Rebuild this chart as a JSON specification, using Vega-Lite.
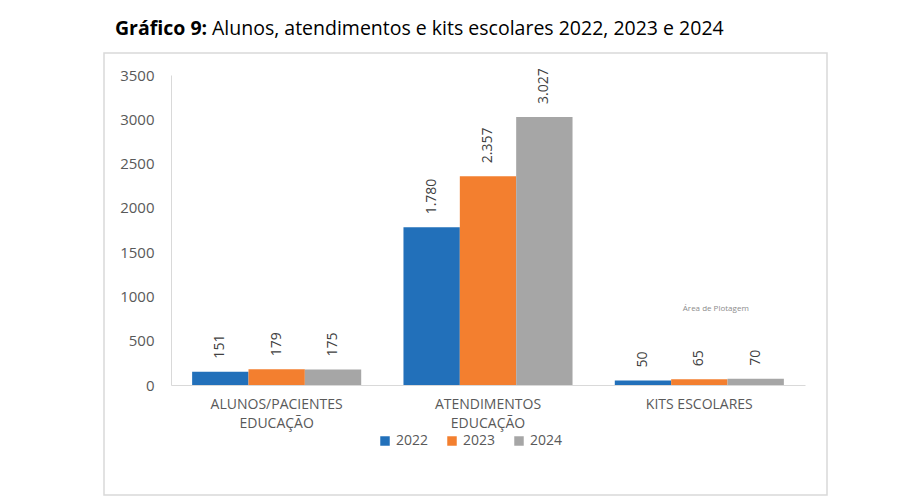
{
  "$schema": "https://vega.github.io/schema/vega-lite/v6.json",
  "width": 723,
  "height": 442,
  "autosize": "none",
  "padding": {"left": 104, "top": 53, "right": 85, "bottom": 1},
  "background": "white",
  "config": {
    "view": {"stroke": "#d9d9d9", "strokeWidth": 1.5},
    "font": "Open Sans",
    "locale": {"number": {"decimal": ",", "thousands": ".", "grouping": [3], "currency": ["R$", ""]}}
  },
  "title": {
    "text": "Gráfico 9:",
    "subtitle": "Alunos, atendimentos e kits escolares 2022, 2023 e 2024",
    "anchor": "start",
    "frame": "group",
    "dx": 108,
    "encoding": {"dx": {"value": 11}},
    "font": "Open Sans",
    "subtitleFont": "Open Sans",
    "fontSize": 19.5,
    "subtitleFontSize": 19.5,
    "fontWeight": "bold",
    "subtitleFontWeight": "normal",
    "color": "#000000",
    "subtitleColor": "#000000",
    "subtitlePadding": -19.5,
    "offset": 14
  },
  "data": {
    "values": [
      {"cat": "ALUNOS/PACIENTES EDUCAÇÃO", "ano": "2022", "v": 151},
      {"cat": "ALUNOS/PACIENTES EDUCAÇÃO", "ano": "2023", "v": 179},
      {"cat": "ALUNOS/PACIENTES EDUCAÇÃO", "ano": "2024", "v": 175},
      {"cat": "ATENDIMENTOS EDUCAÇÃO", "ano": "2022", "v": 1780},
      {"cat": "ATENDIMENTOS EDUCAÇÃO", "ano": "2023", "v": 2357},
      {"cat": "ATENDIMENTOS EDUCAÇÃO", "ano": "2024", "v": 3027},
      {"cat": "KITS ESCOLARES", "ano": "2022", "v": 50},
      {"cat": "KITS ESCOLARES", "ano": "2023", "v": 65},
      {"cat": "KITS ESCOLARES", "ano": "2024", "v": 70}
    ]
  },
  "encoding": {
    "x": {
      "field": "cat",
      "type": "nominal",
      "sort": ["ALUNOS/PACIENTES EDUCAÇÃO", "ATENDIMENTOS EDUCAÇÃO", "KITS ESCOLARES"],
      "scale": {"range": [67, 701], "paddingInner": 0.2, "paddingOuter": 0.1},
      "axis": {
        "title": null,
        "labelAngle": 0,
        "ticks": false,
        "domainColor": "#d9d9d9",
        "domainWidth": 1,
        "labelFont": "Open Sans",
        "labelFontSize": 14,
        "labelColor": "#595959",
        "labelPadding": 12,
        "labelLineHeight": 19,
        "labelBaseline": "top",
        "offset": -110,
        "labelExpr": "datum.value == 'KITS ESCOLARES' ? datum.value : split(datum.value, ' ')"
      }
    },
    "xOffset": {
      "field": "ano",
      "type": "nominal",
      "scale": {"paddingInner": 0, "paddingOuter": 0}
    },
    "y": {
      "field": "v",
      "type": "quantitative",
      "scale": {"domain": [0, 3500], "range": [332, 22], "nice": false},
      "axis": {
        "title": null,
        "values": [0, 500, 1000, 1500, 2000, 2500, 3000, 3500],
        "format": "d",
        "grid": false,
        "ticks": false,
        "domainColor": "#d9d9d9",
        "domainWidth": 1,
        "labelFont": "Open Sans",
        "labelFontSize": 15,
        "labelColor": "#595959",
        "labelPadding": 17,
        "offset": -67
      }
    }
  },
  "layer": [
    {
      "mark": {"type": "bar"},
      "encoding": {
        "color": {
          "field": "ano",
          "type": "nominal",
          "scale": {"domain": ["2022", "2023", "2024"], "range": ["#2270BA", "#F37F2F", "#A6A6A6"]},
          "legend": {
            "orient": "none",
            "legendX": 274,
            "legendY": 381,
            "direction": "horizontal",
            "title": null,
            "symbolType": "square",
            "symbolSize": 90,
            "symbolStrokeWidth": 0,
            "labelFont": "Open Sans",
            "labelFontSize": 14,
            "labelColor": "#595959",
            "columnPadding": 16
          }
        }
      }
    },
    {
      "mark": {"type": "text", "angle": 270, "align": "left", "baseline": "middle", "dx": 13, "fontSize": 14, "color": "#404040", "font": "Open Sans"},
      "encoding": {
        "text": {"field": "v", "type": "quantitative", "format": ",d"}
      }
    },
    {
      "data": {"values": [{"cat": "KITS ESCOLARES", "v": 860, "nota": "Área de Plotagem"}]},
      "mark": {"type": "text", "fontSize": 8, "color": "#8c8c8c", "dx": 101, "font": "Open Sans"},
      "encoding": {
        "xOffset": {"value": 0},
        "text": {"field": "nota", "type": "nominal"}
      }
    }
  ]
}
